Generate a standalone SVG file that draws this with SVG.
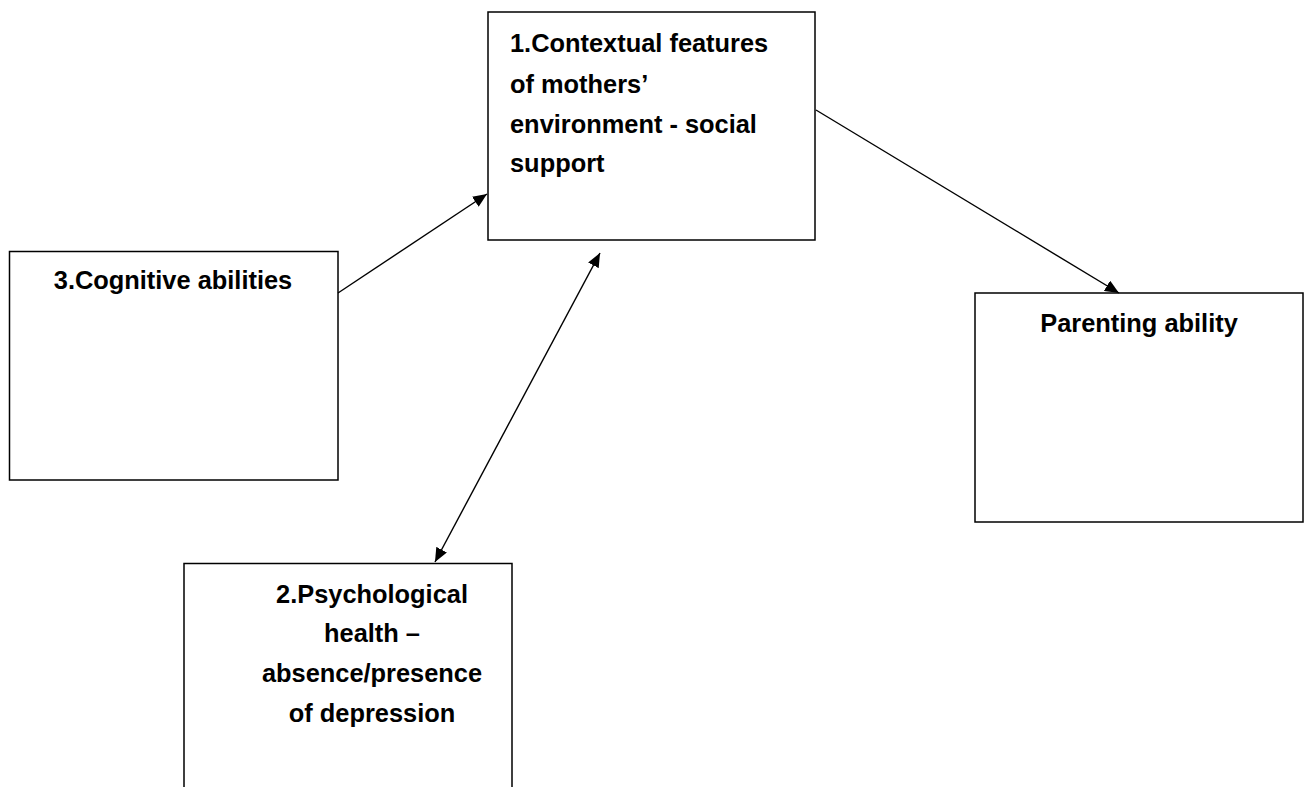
<svg xmlns="http://www.w3.org/2000/svg" width="1307" height="787" viewBox="0 0 1307 787">
<style>
.box{fill:#fff;stroke:#000;stroke-width:1.5}
.t{font-family:"Liberation Sans",Arial,sans-serif;font-weight:bold;font-size:25.4px;fill:#000}
.c{text-anchor:middle}
.conn line{stroke:#000;stroke-width:1.4;fill:none}
</style>
<defs>
<marker id="ah" viewBox="0 0 14 12" refX="14" refY="6" markerWidth="14" markerHeight="12" markerUnits="userSpaceOnUse" orient="auto-start-reverse">
<path d="M0,0 L14,6 L0,12 Z" fill="#000"/>
</marker>
</defs>
<rect width="1307" height="787" fill="#fff"/>
<g id="node1">
<rect class="box" x="488" y="12" width="327" height="228"/>
<text class="t" x="510" y="52">1.Contextual features</text>
<text class="t" x="510" y="93">of mothers’</text>
<text class="t" x="510" y="133">environment - social</text>
<text class="t" x="510" y="172">support</text>
</g>
<g id="node3">
<rect class="box" x="9.5" y="251.5" width="328.5" height="228.5"/>
<text class="t c" x="173" y="289">3.Cognitive abilities</text>
</g>
<g id="node-parenting">
<rect class="box" x="975" y="293" width="328" height="229"/>
<text class="t c" x="1139" y="332">Parenting ability</text>
</g>
<g id="node2">
<path class="box" d="M184,800 L184,563.5 L512,563.5 L512,800"/>
<text class="t c" x="372" y="603">2.Psychological</text>
<text class="t c" x="372" y="642">health –</text>
<text class="t c" x="372" y="682">absence/presence</text>
<text class="t c" x="372" y="722">of depression</text>
</g>
<g id="connectors" class="conn">
<line x1="338" y1="293" x2="487" y2="194" marker-end="url(#ah)"/>
<line x1="816" y1="110" x2="1119" y2="293" marker-end="url(#ah)"/>
<line x1="600" y1="253" x2="435" y2="562" marker-start="url(#ah)" marker-end="url(#ah)"/>
</g>
</svg>
